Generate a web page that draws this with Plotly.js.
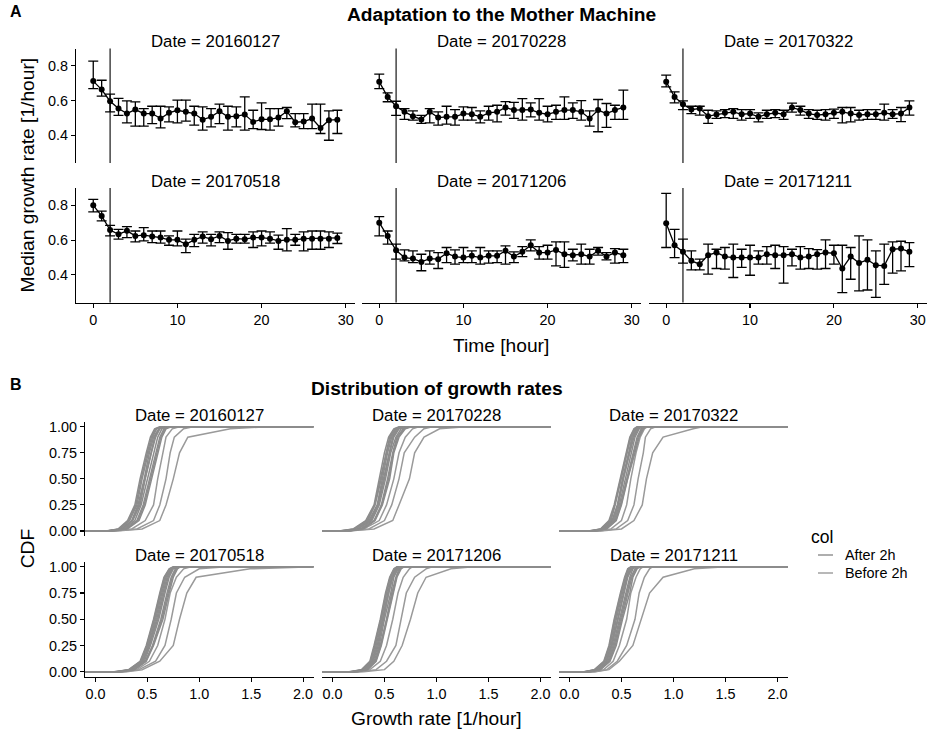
<!DOCTYPE html>
<html><head><meta charset="utf-8">
<script src="https://cdn.plot.ly/plotly-3.0.1.min.js"></script>
<style>body{margin:0;padding:0;background:#fff}#chart{width:932px;height:736px}</style>
</head><body><div id="chart"></div>
<script>
// ---------------- DATA ----------------
const dates = ['20160127','20170228','20170322','20170518','20171206','20171211'];
const hours = [0,1,2,3,4,5,6,7,8,9,10,11,12,13,14,15,16,17,18,19,20,21,22,23,24,25,26,27,28,29];
const switchHour = 2;

const med_20160127 = [0.712,0.663,0.596,0.554,0.525,0.548,0.525,0.525,0.496,0.529,0.544,0.535,0.525,0.490,0.506,0.538,0.506,0.510,0.519,0.477,0.492,0.492,0.502,0.538,0.475,0.479,0.496,0.442,0.487,0.490];
const hi_20160127  = [0.827,0.717,0.637,0.612,0.598,0.592,0.554,0.567,0.567,0.563,0.602,0.602,0.567,0.563,0.554,0.579,0.567,0.563,0.621,0.544,0.587,0.554,0.554,0.560,0.525,0.525,0.579,0.579,0.540,0.544];
const lo_20160127  = [0.669,0.625,0.535,0.515,0.471,0.452,0.452,0.467,0.442,0.477,0.471,0.481,0.458,0.429,0.448,0.467,0.429,0.448,0.429,0.438,0.433,0.429,0.452,0.496,0.448,0.438,0.438,0.410,0.371,0.410];

const med_20170228 = [0.708,0.621,0.567,0.535,0.510,0.491,0.535,0.502,0.506,0.506,0.525,0.521,0.506,0.529,0.535,0.560,0.545,0.545,0.548,0.529,0.521,0.535,0.545,0.545,0.535,0.497,0.545,0.525,0.545,0.560];
const hi_20170228  = [0.752,0.644,0.596,0.554,0.540,0.515,0.554,0.535,0.567,0.548,0.563,0.560,0.540,0.567,0.573,0.594,0.590,0.611,0.586,0.611,0.567,0.573,0.621,0.586,0.600,0.540,0.606,0.583,0.573,0.660];
const lo_20170228  = [0.669,0.593,0.515,0.491,0.487,0.468,0.471,0.458,0.464,0.458,0.487,0.487,0.471,0.487,0.477,0.516,0.497,0.487,0.506,0.487,0.477,0.491,0.491,0.497,0.487,0.452,0.420,0.445,0.491,0.491];

const med_20170322 = [0.708,0.621,0.579,0.548,0.554,0.510,0.519,0.529,0.535,0.521,0.525,0.506,0.521,0.529,0.521,0.560,0.545,0.525,0.516,0.521,0.529,0.535,0.525,0.516,0.521,0.521,0.529,0.521,0.525,0.560];
const hi_20170322  = [0.746,0.650,0.598,0.567,0.567,0.544,0.540,0.548,0.554,0.548,0.548,0.529,0.544,0.548,0.544,0.585,0.567,0.548,0.544,0.548,0.550,0.560,0.560,0.544,0.548,0.548,0.579,0.548,0.560,0.598];
const lo_20170322  = [0.679,0.587,0.548,0.525,0.516,0.468,0.497,0.502,0.497,0.487,0.497,0.477,0.497,0.502,0.491,0.533,0.516,0.497,0.491,0.487,0.497,0.471,0.477,0.487,0.491,0.491,0.487,0.497,0.479,0.516];

const med_20170518 = [0.800,0.739,0.658,0.633,0.653,0.624,0.628,0.620,0.614,0.601,0.601,0.576,0.601,0.620,0.605,0.624,0.595,0.608,0.605,0.614,0.614,0.608,0.595,0.601,0.601,0.608,0.608,0.608,0.608,0.612];
const hi_20170518  = [0.834,0.767,0.685,0.662,0.677,0.652,0.672,0.652,0.652,0.624,0.652,0.605,0.633,0.647,0.633,0.647,0.643,0.633,0.633,0.647,0.652,0.647,0.628,0.666,0.633,0.647,0.652,0.652,0.647,0.640];
const lo_20170518  = [0.762,0.710,0.624,0.605,0.614,0.590,0.595,0.585,0.582,0.570,0.566,0.528,0.562,0.582,0.566,0.585,0.547,0.582,0.582,0.557,0.566,0.582,0.547,0.538,0.570,0.538,0.547,0.547,0.557,0.580];

const med_20171206 = [0.700,0.624,0.541,0.499,0.493,0.474,0.493,0.490,0.524,0.505,0.499,0.509,0.499,0.509,0.509,0.538,0.505,0.532,0.570,0.528,0.528,0.543,0.518,0.513,0.518,0.505,0.538,0.505,0.528,0.513];
const hi_20171206  = [0.735,0.652,0.576,0.543,0.538,0.518,0.538,0.528,0.557,0.543,0.557,0.538,0.557,0.538,0.538,0.566,0.532,0.562,0.601,0.562,0.570,0.589,0.589,0.547,0.576,0.547,0.557,0.528,0.551,0.547];
const lo_20171206  = [0.624,0.576,0.490,0.480,0.470,0.423,0.461,0.436,0.470,0.461,0.470,0.470,0.461,0.467,0.470,0.461,0.470,0.505,0.538,0.490,0.490,0.451,0.442,0.480,0.461,0.461,0.513,0.486,0.467,0.470];

const med_20171211 = [0.697,0.570,0.532,0.480,0.461,0.513,0.528,0.505,0.499,0.499,0.499,0.499,0.518,0.513,0.513,0.518,0.499,0.505,0.518,0.528,0.524,0.436,0.505,0.467,0.486,0.455,0.451,0.547,0.551,0.532];
const hi_20171211  = [0.869,0.662,0.605,0.538,0.490,0.576,0.547,0.557,0.576,0.547,0.570,0.538,0.562,0.570,0.562,0.547,0.562,0.551,0.545,0.601,0.570,0.570,0.557,0.624,0.601,0.538,0.576,0.589,0.593,0.585];
const lo_20171211  = [0.557,0.499,0.467,0.428,0.428,0.403,0.436,0.432,0.384,0.442,0.397,0.461,0.461,0.436,0.352,0.451,0.432,0.436,0.432,0.436,0.461,0.297,0.374,0.307,0.312,0.269,0.345,0.409,0.422,0.447];

// CDF curves: growth rate at each cumulative probability level
const cdfLevels = [0, 0.02, 0.1, 0.25, 0.5, 0.75, 0.9, 0.98, 1];

const after_20160127 = [
  [0.10,0.22,0.31,0.38,0.43,0.49,0.53,0.57,0.62],
  [0.11,0.23,0.32,0.39,0.44,0.50,0.54,0.58,0.63],
  [0.12,0.24,0.33,0.40,0.45,0.51,0.55,0.59,0.64],
  [0.11,0.25,0.35,0.41,0.47,0.52,0.56,0.61,0.66],
  [0.13,0.26,0.355,0.42,0.475,0.53,0.57,0.615,0.665],
  [0.14,0.27,0.36,0.43,0.48,0.54,0.58,0.62,0.67],
  [0.13,0.28,0.38,0.44,0.50,0.56,0.60,0.64,0.69],
  [0.15,0.29,0.40,0.46,0.52,0.58,0.62,0.66,0.70],
  [0.15,0.30,0.41,0.47,0.53,0.59,0.63,0.67,0.71],
  [0.16,0.31,0.42,0.48,0.54,0.60,0.64,0.68,0.73]];
const before_20160127 = [
  [0.20,0.45,0.62,0.68,0.75,0.81,0.89,1.30,1.65],
  [0.18,0.40,0.56,0.62,0.68,0.72,0.76,0.85,0.94],
  [0.15,0.35,0.48,0.56,0.60,0.65,0.68,0.74,0.81]];

const after_20170228 = [
  [0.06,0.20,0.32,0.40,0.45,0.50,0.54,0.59,0.64],
  [0.07,0.21,0.33,0.405,0.46,0.51,0.55,0.60,0.65],
  [0.08,0.22,0.34,0.41,0.47,0.52,0.56,0.61,0.66],
  [0.10,0.24,0.35,0.43,0.48,0.53,0.57,0.62,0.68],
  [0.11,0.245,0.36,0.435,0.49,0.54,0.58,0.63,0.69],
  [0.12,0.25,0.37,0.44,0.50,0.55,0.59,0.64,0.70],
  [0.14,0.27,0.38,0.45,0.51,0.56,0.61,0.66,0.71],
  [0.15,0.28,0.40,0.47,0.53,0.58,0.62,0.68,0.73],
  [0.15,0.29,0.405,0.475,0.54,0.585,0.63,0.69,0.745],
  [0.16,0.30,0.41,0.48,0.55,0.59,0.64,0.70,0.76]];
const before_20170228 = [
  [0.15,0.40,0.58,0.64,0.74,0.79,0.88,1.03,1.28],
  [0.15,0.35,0.50,0.57,0.64,0.69,0.79,0.88,0.96],
  [0.12,0.30,0.45,0.52,0.59,0.64,0.70,0.77,0.83]];

const after_20170322 = [
  [0.18,0.30,0.38,0.43,0.49,0.55,0.58,0.62,0.65],
  [0.19,0.305,0.39,0.435,0.495,0.555,0.585,0.625,0.655],
  [0.20,0.31,0.40,0.44,0.50,0.56,0.59,0.63,0.66],
  [0.21,0.32,0.41,0.46,0.51,0.57,0.60,0.64,0.68],
  [0.215,0.325,0.415,0.465,0.515,0.575,0.61,0.65,0.685],
  [0.22,0.33,0.42,0.47,0.52,0.58,0.62,0.66,0.69],
  [0.23,0.34,0.43,0.48,0.54,0.60,0.63,0.67,0.70],
  [0.24,0.35,0.44,0.49,0.55,0.61,0.65,0.69,0.72],
  [0.245,0.355,0.445,0.495,0.555,0.62,0.66,0.70,0.73],
  [0.25,0.36,0.45,0.50,0.56,0.63,0.67,0.71,0.74]];
const before_20170322 = [
  [0.30,0.50,0.62,0.70,0.74,0.80,0.90,1.19,1.28],
  [0.28,0.45,0.56,0.62,0.66,0.71,0.73,0.78,0.83],
  [0.26,0.40,0.50,0.55,0.59,0.64,0.68,0.72,0.75]];

const after_20170518 = [
  [0.18,0.32,0.43,0.49,0.56,0.62,0.66,0.71,0.75],
  [0.19,0.325,0.435,0.495,0.565,0.625,0.665,0.715,0.755],
  [0.20,0.33,0.44,0.50,0.57,0.63,0.67,0.72,0.76],
  [0.21,0.34,0.45,0.51,0.58,0.64,0.68,0.73,0.77],
  [0.215,0.345,0.455,0.515,0.59,0.65,0.69,0.735,0.775],
  [0.22,0.35,0.46,0.52,0.60,0.66,0.70,0.74,0.78],
  [0.23,0.36,0.47,0.53,0.61,0.67,0.71,0.75,0.79],
  [0.24,0.37,0.48,0.55,0.63,0.69,0.73,0.77,0.80],
  [0.245,0.375,0.485,0.555,0.64,0.70,0.74,0.78,0.81],
  [0.25,0.38,0.49,0.56,0.65,0.71,0.75,0.79,0.82]];
const before_20170518 = [
  [0.30,0.45,0.62,0.75,0.81,0.88,0.97,1.49,1.97],
  [0.28,0.42,0.58,0.67,0.73,0.78,0.86,1.00,1.26],
  [0.26,0.40,0.52,0.60,0.67,0.72,0.78,0.85,0.92]];

const after_20171206 = [
  [0.16,0.28,0.36,0.40,0.46,0.51,0.55,0.59,0.62],
  [0.17,0.285,0.365,0.405,0.465,0.515,0.555,0.595,0.625],
  [0.18,0.29,0.37,0.41,0.47,0.52,0.56,0.60,0.63],
  [0.19,0.30,0.38,0.42,0.48,0.53,0.57,0.61,0.64],
  [0.195,0.305,0.385,0.43,0.485,0.535,0.575,0.615,0.645],
  [0.20,0.31,0.39,0.44,0.49,0.54,0.58,0.62,0.65],
  [0.21,0.32,0.40,0.45,0.50,0.56,0.59,0.63,0.66],
  [0.22,0.33,0.41,0.46,0.52,0.57,0.61,0.64,0.67],
  [0.23,0.335,0.415,0.465,0.525,0.58,0.615,0.65,0.68],
  [0.24,0.34,0.42,0.47,0.53,0.59,0.62,0.66,0.69]];
const before_20171206 = [
  [0.30,0.50,0.59,0.67,0.75,0.82,0.90,1.14,1.35],
  [0.26,0.42,0.52,0.61,0.66,0.71,0.79,0.90,0.96],
  [0.24,0.36,0.46,0.52,0.58,0.63,0.68,0.74,0.77]];

const after_20171211 = [
  [0.14,0.24,0.33,0.38,0.43,0.49,0.53,0.56,0.59],
  [0.145,0.245,0.335,0.385,0.435,0.495,0.535,0.565,0.595],
  [0.15,0.25,0.34,0.39,0.44,0.50,0.54,0.57,0.60],
  [0.16,0.26,0.35,0.40,0.45,0.51,0.55,0.58,0.62],
  [0.165,0.265,0.355,0.405,0.46,0.52,0.555,0.59,0.625],
  [0.17,0.27,0.36,0.41,0.47,0.53,0.56,0.60,0.63],
  [0.18,0.28,0.37,0.42,0.48,0.54,0.58,0.61,0.64],
  [0.19,0.29,0.38,0.43,0.49,0.55,0.59,0.63,0.66],
  [0.195,0.295,0.385,0.44,0.50,0.565,0.60,0.64,0.67],
  [0.20,0.30,0.39,0.45,0.51,0.58,0.61,0.65,0.68]];
const before_20171211 = [
  [0.25,0.38,0.48,0.61,0.69,0.77,0.90,1.20,1.50],
  [0.24,0.36,0.46,0.55,0.63,0.67,0.72,0.77,0.80],
  [0.22,0.33,0.42,0.48,0.55,0.59,0.64,0.68,0.71]];

const yTicksA = [0.4, 0.6, 0.8];
const xTicksA = [0, 10, 20, 30];
const yTicksB = [0, 0.25, 0.5, 0.75, 1];
const xTicksB = [0, 0.5, 1, 1.5, 2];
const legendLabels = ['After 2h', 'Before 2h'];

// ---------------- STYLE / LAYOUT ----------------
const W = 932, H = 736;
const FONT = 'Liberation Sans, Arial, Helvetica, sans-serif';
const AFTER_COL = '#8c8c8c', BEFORE_COL = '#9a9a9a';
const px = v => v / W, py = v => 1 - v / H;

const aCols = [[76,355],[362,641],[649,927]];
const aRows = [[48.5,163],[188,302.5]];
const bCols = [[85,313.5],[322,551],[559,788]];
const bRows = [[421.5,536.2],[561.5,677]];
const rangeA_x = [-2.05, 31.1], rangeA_y = [0.24, 0.90];
const rangeB_x = [-0.1, 2.1], rangeB_y = [-0.05, 1.05];

const medians = [med_20160127, med_20170228, med_20170322, med_20170518, med_20171206, med_20171211];
const highs   = [hi_20160127, hi_20170228, hi_20170322, hi_20170518, hi_20171206, hi_20171211];
const lows    = [lo_20160127, lo_20170228, lo_20170322, lo_20170518, lo_20171206, lo_20171211];
const afters  = [after_20160127, after_20170228, after_20170322, after_20170518, after_20171206, after_20171211];
const befores = [before_20160127, before_20170228, before_20170322, before_20170518, before_20171206, before_20171211];

const traces = [];
const shapes = [];
const annotations = [];
const layout = {
  width: W, height: H, margin: {l:0, r:0, t:0, b:0},
  paper_bgcolor: '#fff', plot_bgcolor: 'rgba(0,0,0,0)',
  showlegend: false, font: {family: FONT, color: '#000'},
  shapes, annotations
};

function axis(domain, range, show, ticks, fmt, anchor) {
  return {
    domain, range, anchor, autorange: false, fixedrange: true,
    showgrid: false, zeroline: false,
    showline: show, linecolor: '#000', linewidth: 1.1,
    ticks: show ? 'outside' : '', ticklen: 4, tickwidth: 1.1, tickcolor: '#000',
    showticklabels: show, tickvals: ticks, ticktext: ticks.map(v => v.toFixed(fmt)),
    tickfont: {family: FONT, size: 14.4, color: '#000'}
  };
}
function text(t, x, y, size, opts) {
  annotations.push(Object.assign({
    text: t, x: px(x), y: py(y), xref: 'paper', yref: 'paper',
    showarrow: false, xanchor: 'center', yanchor: 'middle',
    font: {family: FONT, size: size, color: '#000'}
  }, opts || {}));
}

dates.forEach((d, i) => {
  const r = Math.floor(i / 3), c = i % 3;
  // ---- Panel A facet ----
  const n = i + 1;
  layout['xaxis' + n] = axis([px(aCols[c][0]), px(aCols[c][1])], rangeA_x, r === 1, xTicksA, 0, 'y' + n);
  layout['yaxis' + n] = axis([py(aRows[r][1]), py(aRows[r][0])], rangeA_y, c === 0, yTicksA, 1, 'x' + n);
  traces.push({
    type: 'scatter', mode: 'lines+markers', x: hours, y: medians[i],
    xaxis: 'x' + n, yaxis: 'y' + n, hoverinfo: 'skip', cliponaxis: false,
    line: {color: '#000', width: 1.3}, marker: {color: '#000', size: 6},
    error_y: {type: 'data', symmetric: false,
      array: highs[i].map((h, k) => h - medians[i][k]),
      arrayminus: lows[i].map((l, k) => medians[i][k] - l),
      color: '#000', thickness: 1.3, width: 5}
  });
  shapes.push({type: 'line', xref: 'x' + n, yref: 'y' + n + ' domain',
    x0: switchHour, x1: switchHour, y0: 0, y1: 1, line: {color: '#000', width: 1.1}});
  text('Date = ' + d, (aCols[c][0] + aCols[c][1]) / 2, r === 0 ? 41.5 : 181.5, 16.8);

  // ---- Panel B facet ----
  const m = i + 7;
  layout['xaxis' + m] = axis([px(bCols[c][0]), px(bCols[c][1])], rangeB_x, r === 1, xTicksB, 1, 'y' + m);
  layout['yaxis' + m] = axis([py(bRows[r][1]), py(bRows[r][0])], rangeB_y, c === 0, yTicksB, 2, 'x' + m);
  const addCdf = (q, col) => traces.push({
    type: 'scatter', mode: 'lines', xaxis: 'x' + m, yaxis: 'y' + m, hoverinfo: 'skip',
    x: [rangeB_x[0]].concat(q, [rangeB_x[1]]), y: [0].concat(cdfLevels, [1]),
    line: {color: col, width: 1.5}
  });
  befores[i].forEach(q => addCdf(q, BEFORE_COL));
  afters[i].forEach(q => addCdf(q, AFTER_COL));
  text('Date = ' + d, (bCols[c][0] + bCols[c][1]) / 2, r === 0 ? 415 : 555, 16.8);
});

// Titles / labels
text('<b>A</b>', 16, 11, 16);
text('<b>B</b>', 16, 384, 16);
text('<b>Adaptation to the Mother Machine</b>', (aCols[0][0] + aCols[2][1]) / 2, 15, 19.2);
text('<b>Distribution of growth rates</b>', (bCols[0][0] + bCols[2][1]) / 2, 388, 19.2);
text('Median growth rate [1/hour]', 27, (aRows[0][0] + aRows[1][1]) / 2, 19.2, {textangle: -90});
text('Time [hour]', (aCols[0][0] + aCols[2][1]) / 2, 346, 19.2);
text('CDF', 27, (bRows[0][0] + bRows[1][1]) / 2, 19.2, {textangle: -90});
text('Growth rate [1/hour]', (bCols[0][0] + bCols[2][1]) / 2, 718, 19.2);

// Legend
text('col', 809, 537, 17.5, {xanchor: 'left'});
[[AFTER_COL, 555], [BEFORE_COL, 573]].forEach(([col, y], k) => {
  shapes.push({type: 'line', xref: 'paper', yref: 'paper', x0: px(818), x1: px(833),
    y0: py(y), y1: py(y), line: {color: col, width: 1.4}});
  text(legendLabels[k], 843, y, 14.4, {xanchor: 'left'});
});

Plotly.newPlot('chart', traces, layout, {staticPlot: true, displayModeBar: false});
</script></body></html>
